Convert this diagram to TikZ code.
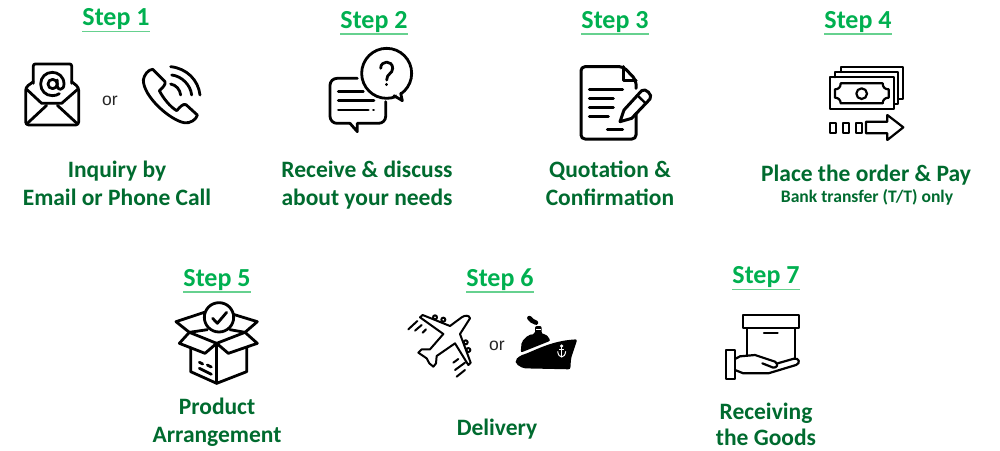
\documentclass[tikz,border=0pt]{standalone}
\usepackage{fontspec}
\setmainfont{Carlito}
\newfontfamily\orfont{Liberation Sans}
\tikzset{
  steplabel/.style={anchor=base,inner sep=0pt,text=stepgreen,font=\fontsize{26}{26}\selectfont\bfseries},
  caption/.style={anchor=base,inner sep=0pt,text=capgreen,font=\fontsize{23.5}{24}\selectfont\bfseries},
  subcaption/.style={anchor=base,inner sep=0pt,text=capgreen,font=\fontsize{17.6}{18}\selectfont\bfseries},
  orlabel/.style={anchor=base,inner sep=0pt,text=black!85,font=\fontsize{17.5}{18}\selectfont\orfont},
  rule/.style={draw=rulegreen,line width=1.3pt},
  icon/.style={draw=black,line width=2.8pt,line join=round,line cap=round},
  thin icon/.style={draw=black,line width=2.2pt,line join=round,line cap=round},
  zoomed/.style={x=0.33333pt,y=-0.33333pt}
}
\definecolor{stepgreen}{HTML}{00B050}
\definecolor{capgreen}{HTML}{006B2F}
\definecolor{rulegreen}{HTML}{66D18F}
\begin{document}
\begin{tikzpicture}[x=1pt,y=-1pt]
\useasboundingbox (0,0) rectangle (1000,450);
\fill[white] (0,0) rectangle (1000,450);
% step labels
\node[steplabel] (s1) at (116,25) {Step 1};
\node[steplabel] (s2) at (374,28) {Step 2};
\node[steplabel] (s3) at (615,28) {Step 3};
\node[steplabel] (s4) at (858,28) {Step 4};
\node[steplabel] (s5) at (217,286) {Step 5};
\node[steplabel] (s6) at (500,286) {Step 6};
\node[steplabel] (s7) at (766,283) {Step 7};
\draw[rule] (82,31.5) -- (150,31.5);
\draw[rule] (340,34) -- (408,34);
\draw[rule] (581,34) -- (649,34);
\draw[rule] (824,34) -- (892,34);
\draw[rule] (183,292) -- (251,292);
\draw[rule] (466,292) -- (534,292);
\draw[rule] (732,289.5) -- (800,289.5);
% captions
\node[caption] (c1a) at (117,177) {Inquiry by};
\node[caption] (c1b) at (117,205) {Email or Phone Call};
\node[caption] (c2a) at (367,177) {Receive \& discuss};
\node[caption] (c2b) at (367,205) {about your needs};
\node[caption] (c3a) at (610,177) {Quotation \&};
\node[caption] (c3b) at (610,205) {Confirmation};
\node[caption] (c4a) at (866,181) {Place the order \& Pay};
\node[subcaption] (c4b) at (867,202) {Bank transfer (T/T) only};
\node[caption] (c5a) at (217,414) {Product};
\node[caption] (c5b) at (217,442) {Arrangement};
\node[caption] (c6a) at (497,435) {Delivery};
\node[caption] (c7a) at (766,419) {Receiving};
\node[caption] (c7b) at (766,445) {the Goods};
\node[orlabel] (or1) at (110,105) {or};
\node[orlabel] (or2) at (497,350) {or};
% envelope
\begin{scope}[zoomed]
\draw[icon,rounded corners=2pt] (100,250) -- (100,192) -- (215,192) -- (215,250);
\draw[icon,rounded corners=3pt] (100,245) -- (77,262) -- (77,375) -- (236,375) -- (236,262) -- (215,245);
\draw[icon] (80,268) -- (125,310) -- (185,310) -- (233,268);
\draw[icon] (80,372) -- (140,316);
\draw[icon] (233,372) -- (172,316);
\draw[icon] (158,252) circle (14);
\draw[icon] (172,240) -- (172,258) .. controls (172,272) and (192,272) .. (192,252) .. controls (192,230) and (175,217) .. (157,217) .. controls (137,217) and (122,232) .. (122,252) .. controls (122,272) and (137,287) .. (157,287) .. controls (165,287) and (172,285) .. (178,281);
% phone
\draw[icon] (458,208) -- (495,245) .. controls (498,252) and (490,262) .. (478,272) .. controls (490,295) and (510,320) .. (530,332) .. controls (540,322) and (548,310) .. (558,314) -- (592,345) .. controls (590,358) and (570,372) .. (552,368) .. controls (510,360) and (430,290) .. (430,240) .. controls (432,225) and (445,208) .. (458,208) -- cycle;
\draw[icon] (512,200) .. controls (560,205) and (595,240) .. (600,285);
\draw[icon] (515,225) .. controls (545,228) and (572,255) .. (575,285);
\draw[icon] (512,252) .. controls (528,255) and (540,268) .. (542,285);
\end{scope}
% bubbles
\begin{scope}[shift={(270,0)},zoomed]
\draw[icon] (350,220) circle (75);
\fill[white] (378,285) -- (395,300) -- (392,275) -- cycle;
\draw[icon] (372,287) -- (397,302) -- (392,280);
\draw[icon,rounded corners=7pt] (262,235) -- (180,235) -- (180,370) -- (240,370);
\draw[icon,rounded corners=7pt] (262,370) -- (347,370) -- (347,305);
\draw[icon] (240,370) -- (262,395) -- (262,370);
\draw[icon] (205,275) -- (280,275);
\draw[icon] (205,302) -- (312,302);
\draw[icon] (205,330) -- (295,330);
\draw[icon] (310,330) -- (311,330);
\draw[icon] (332,205) .. controls (332,180) and (368,180) .. (368,205) .. controls (368,222) and (350,220) .. (350,240);
\draw[icon] (350,253) -- (350,254);
\end{scope}
% document
\begin{scope}[shift={(530,0)},zoomed]
\draw[icon,line width=3pt,rounded corners=4pt] (318,265) -- (318,240) -- (280,200) -- (153,200) -- (153,417) -- (318,417) -- (318,340);
\draw[icon,line width=3pt] (280,200) -- (280,240) -- (318,240);
\draw[icon,line width=3pt] (178,268) -- (278,268);
\draw[icon,line width=3pt] (178,296) -- (250,296);
\draw[icon,line width=3pt] (178,322) -- (250,322);
\draw[icon,line width=3pt] (178,348) -- (235,348);
\draw[icon,line width=3pt] (232,388) -- (278,388);
\draw[icon,line width=3pt] (270,365) -- (282,330) -- (335,272) .. controls (345,262) and (370,285) .. (360,297) -- (305,355) -- cycle;
\draw[icon,line width=2.4pt] (322,286) -- (347,310);
\end{scope}
% money
\begin{scope}[shift={(750,0)},zoomed]
\draw[thin icon] (240,232) rectangle (432,328);
\draw[thin icon] (255,232) -- (255,216) -- (445,216) -- (445,312) -- (432,312);
\draw[thin icon] (272,216) -- (272,200) -- (460,200) -- (460,298) -- (445,298);
\draw[thin icon] (272,250) -- (398,250) .. controls (398,262) and (405,268) .. (416,268) -- (416,293) .. controls (405,293) and (398,300) .. (398,310) -- (272,310) .. controls (272,300) and (265,293) .. (255,293) -- (255,268) .. controls (265,268) and (272,262) .. (272,250) -- cycle;
\draw[thin icon] (335,281) circle (16);
\draw[thin icon] (240,368) rectangle (258,398);
\draw[thin icon] (280,368) rectangle (298,398);
\draw[thin icon] (318,368) rectangle (335,398);
\draw[thin icon] (348,365) -- (412,365) -- (412,345) -- (460,382) -- (412,420) -- (412,400) -- (348,400) -- cycle;
\end{scope}
% box
\begin{scope}[shift={(150,255)},zoomed]
\draw[icon] (207,187) circle (44);
\draw[icon] (188,190) -- (202,205) -- (230,172);
\draw[icon] (200,265) -- (118,232) -- (88,265) -- (165,295) -- cycle;
\draw[icon] (200,265) -- (285,232) -- (322,265) -- (235,295) -- cycle;
\draw[icon] (118,232) -- (78,200) -- (163,172);
\draw[icon] (285,232) -- (322,200) -- (250,178);
\draw[icon] (118,232) -- (172,224);
\draw[icon] (285,232) -- (240,224);
\draw[icon] (122,278) -- (122,350) -- (200,385) -- (290,350) -- (290,278);
\draw[icon] (200,265) -- (200,385);
\draw[icon] (148,322) -- (158,327);
\draw[icon] (172,330) -- (184,336);
\draw[icon] (148,340) -- (184,358);
\end{scope}
% plane
\begin{scope}[shift={(400,310)},zoomed]
\draw[thin icon,line width=2pt] (210,25) .. controls (208,15) and (195,15) .. (185,22) -- (150,48) -- (68,15) -- (60,22) -- (130,72) -- (90,118) -- (65,118) -- (55,128) -- (80,145) -- (88,160) -- (100,170) -- (108,160) -- (110,138) -- (165,100) -- (205,165) -- (212,158) -- (180,72) -- cycle;
\draw[thin icon,line width=2pt] (105,22) circle (6);
\draw[thin icon,line width=2pt] (130,29) circle (6);
\draw[thin icon,line width=2pt] (197,97) circle (6);
\draw[thin icon,line width=2pt] (205,120) circle (6);
\draw[thin icon,line width=2pt] (25,58) -- (52,33);
\draw[thin icon,line width=2pt] (45,62) -- (65,45);
\draw[thin icon,line width=2pt] (68,68) -- (78,58);
\draw[thin icon,line width=2pt] (160,158) -- (175,147);
\draw[thin icon,line width=2pt] (165,180) -- (195,158);
\draw[thin icon,line width=2pt] (170,200) -- (195,180);
\end{scope}
% ship
\begin{scope}[shift={(510,310)},zoomed]
\fill[black,rounded corners=2pt] (16,150) -- (30,137) .. controls (70,125) and (120,92) .. (202,88) -- (183,145) -- (181,178) -- (40,175) -- (18,162) -- cycle;
\fill[black,rounded corners=2pt] (32,128) -- (35,95) -- (55,75) -- (75,72) -- (75,48) -- (95,48) -- (95,72) -- (108,72) -- (122,92) -- cycle;
\draw[black,line width=4.5pt,line cap=round] (58,24) .. controls (62,30) and (70,36) .. (78,38);
\fill[white] (77,56) rectangle (94,60);
\draw[white,line width=1pt,line cap=round] (155,110) -- (155,140);
\draw[white,line width=1pt] (155,108) circle (3);
\draw[white,line width=1pt] (143,124) .. controls (144,134) and (149,141) .. (155,141) .. controls (161,141) and (166,134) .. (167,124);
\draw[white,line width=1pt] (147,118) -- (163,118);
\end{scope}
% hand and box
\begin{scope}[shift={(700,255)},zoomed]
\draw[thin icon] (130,180) rectangle (297,220);
\draw[thin icon] (142,220) -- (142,300);
\draw[thin icon] (285,220) -- (285,310);
\draw[thin icon] (192,233) -- (233,233);
\draw[thin icon] (78,285) rectangle (105,372);
\draw[thin icon] (105,312) -- (120,304) -- (165,300) -- (225,320) .. controls (236,328) and (232,338) .. (220,338) -- (187,325);
\draw[thin icon] (233,325) -- (282,311) .. controls (298,308) and (302,325) .. (288,330) -- (205,355) -- (130,355) -- (105,345);
\end{scope}
\end{tikzpicture}
\end{document}
